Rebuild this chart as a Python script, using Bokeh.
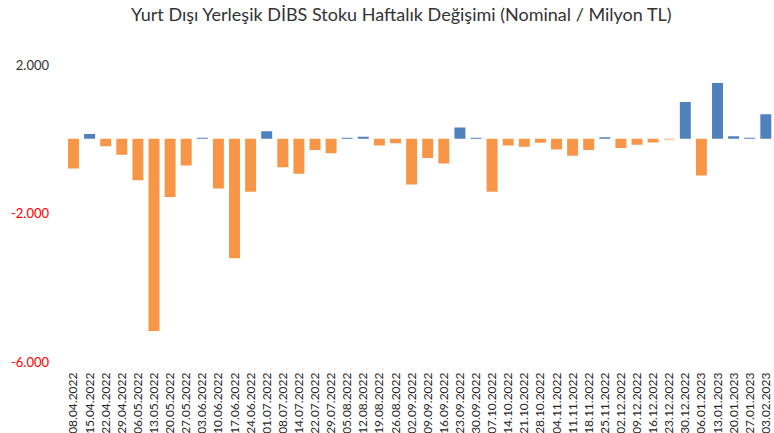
import math
from bokeh.plotting import figure
from bokeh.models import Range1d, ColumnDataSource, FixedTicker
from bokeh.core.properties import value
from bokeh.embed import file_html
from bokeh.resources import INLINE

title_text = "Yurt Dışı Yerleşik DİBS Stoku Haftalık Değişimi (Nominal / Milyon TL)"

dates = [
    "08.04.2022", "15.04.2022", "22.04.2022", "29.04.2022", "06.05.2022", "13.05.2022",
    "20.05.2022", "27.05.2022", "03.06.2022", "10.06.2022", "17.06.2022", "24.06.2022",
    "01.07.2022", "08.07.2022", "14.07.2022", "22.07.2022", "29.07.2022", "05.08.2022",
    "12.08.2022", "19.08.2022", "26.08.2022", "02.09.2022", "09.09.2022", "16.09.2022",
    "23.09.2022", "30.09.2022", "07.10.2022", "14.10.2022", "21.10.2022", "28.10.2022",
    "04.11.2022", "11.11.2022", "18.11.2022", "25.11.2022", "02.12.2022", "09.12.2022",
    "16.12.2022", "23.12.2022", "30.12.2022", "06.01.2023", "13.01.2023", "20.01.2023",
    "27.01.2023", "03.02.2023",
]

values = [
    -800, 130, -200, -430, -1120, -5180,
    -1570, -720, 25, -1340, -3220, -1425,
    205, -765, -940, -305, -390, 25,
    55, -180, -120, -1235, -515, -665,
    305, 25, -1425, -180, -215, -110,
    -290, -460, -305, 40, -250, -160,
    -100, -20, 990, -990, 1500, 70,
    30, 660,
]

y_ticks = [2000, -2000, -6000]
y_tick_labels = ["2.000", "-2.000", "-6.000"]

POS = "#4F81BD"
NEG = "#F79646"

idx = list(range(len(dates)))
colors = [POS if v >= 0 else NEG for v in values]
src = ColumnDataSource(dict(x=idx, value=values, color=colors))

p = figure(
    frame_width=774, frame_height=370,
    x_range=Range1d(-4.534, 43.54),
    y_range=Range1d(-6242, 3724),
    output_backend="svg", toolbar_location=None,
    min_border_left=0, min_border_right=0, min_border_top=0, min_border_bottom=0,
)
p.vbar(x="x", top="value", bottom=0, width=0.68, color="color", line_color=None, source=src)

p.yaxis.visible = False
p.xgrid.visible = False
p.ygrid.visible = False
p.outline_line_color = None

ax = p.xaxis[0]
ax.ticker = FixedTicker(ticks=idx)
ax.major_label_overrides = {i: d for i, d in zip(idx, dates)}
ax.axis_line_color = None
ax.major_tick_line_color = None
ax.minor_tick_line_color = None
ax.major_tick_out = 0
ax.major_tick_in = 0
ax.minor_tick_out = 0
ax.major_label_orientation = math.pi / 2
ax.major_label_standoff = 2
ax.major_label_text_font = "Lato"
ax.major_label_text_font_size = "12px"
ax.major_label_text_color = "#262626"

label_colors = ["#333333" if t > 0 else "#FF0000" for t in y_ticks]
ysrc = ColumnDataSource(dict(x=[-1.52] * len(y_ticks), y=y_ticks, text=y_tick_labels, color=label_colors))
p.text(x="x", y="y", text="text", text_color="color", source=ysrc,
       text_align="right", text_baseline="middle",
       text_font=value("Lato"), text_font_size="13px")

p.text(x=[20.40], y=[3347], text=[title_text], text_align="center", text_baseline="middle",
       text_font=value("Lato"), text_font_size="18px", text_color="#333333")

open("out.html", "w").write(file_html(p, INLINE))
